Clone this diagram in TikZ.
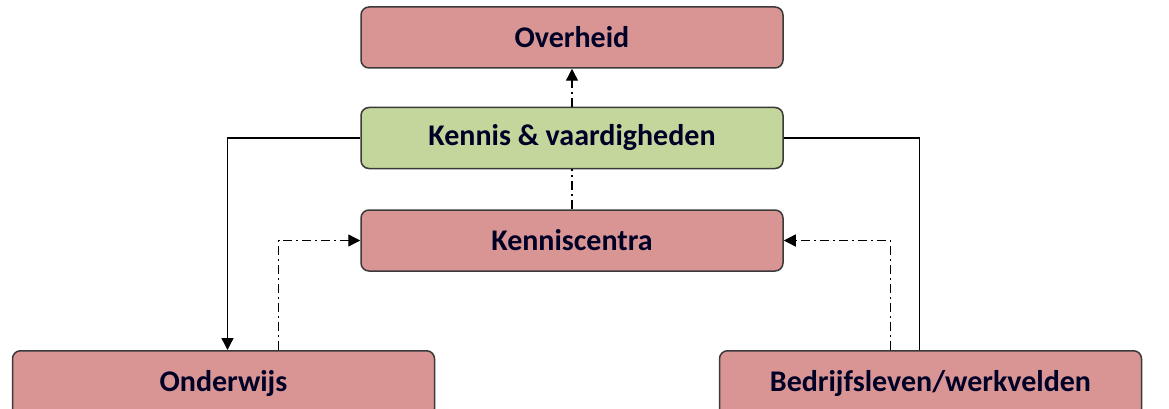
\documentclass[tikz,border=0pt]{standalone}
\usepackage{fontspec}
\setmainfont{Carlito}
\usetikzlibrary{positioning,arrows.meta}
\definecolor{boxred}{HTML}{D99594}
\definecolor{boxgreen}{HTML}{C3D69B}
\definecolor{boxline}{HTML}{3A3A3A}
\begin{document}
\begin{tikzpicture}[x=1pt, y=-1pt, node distance={40pt},
        main/.style = {draw=boxline, line width=1.5pt, rounded corners=8pt, fill=boxred, minimum width=422pt, minimum height=61pt, inner sep=0pt, font=\fontsize{30}{33}\selectfont\bfseries, text=black!85!blue},
        flow/.style = {line width=1.4pt, dash pattern=on 9pt off 4pt on 2pt off 4pt, -{Triangle[length=12pt,width=12pt]}},
        link/.style = {line width=1.4pt}]
        \useasboundingbox (0,0) rectangle (1169,409);
        \node[main, fill=boxgreen] (kv) at (572,138) {Kennis \& vaardigheden};
        \node[main] (ov) [above=38pt of kv] {Overheid};
        \node[main] (kc) [below=of kv] {Kenniscentra};
        \node[main, minimum height=66pt, anchor=north] (ond) at (223.5,350) {\raisebox{3pt}{Onderwijs}};
        \node[main, minimum height=66pt, anchor=north] (bed) at (930.5,350) {\raisebox{3pt}{Bedrijfsleven/werkvelden}};
        \draw[flow] (kv.north) -- (ov.south);
        \draw[flow, -] (kc.north) -- (kv.south);
        \draw[link, -{Triangle[length=12pt,width=12pt]}] (kv.west) -| ([xshift=4pt]ond.north);
        \draw[flow] ([xshift=55pt]ond.north) |- (kc.west);
        \draw[link] (kv.east) -| ([xshift=-11pt]bed.north);
        \draw[flow] ([xshift=-40pt]bed.north) |- (kc.east);
    \end{tikzpicture}
\end{document}
